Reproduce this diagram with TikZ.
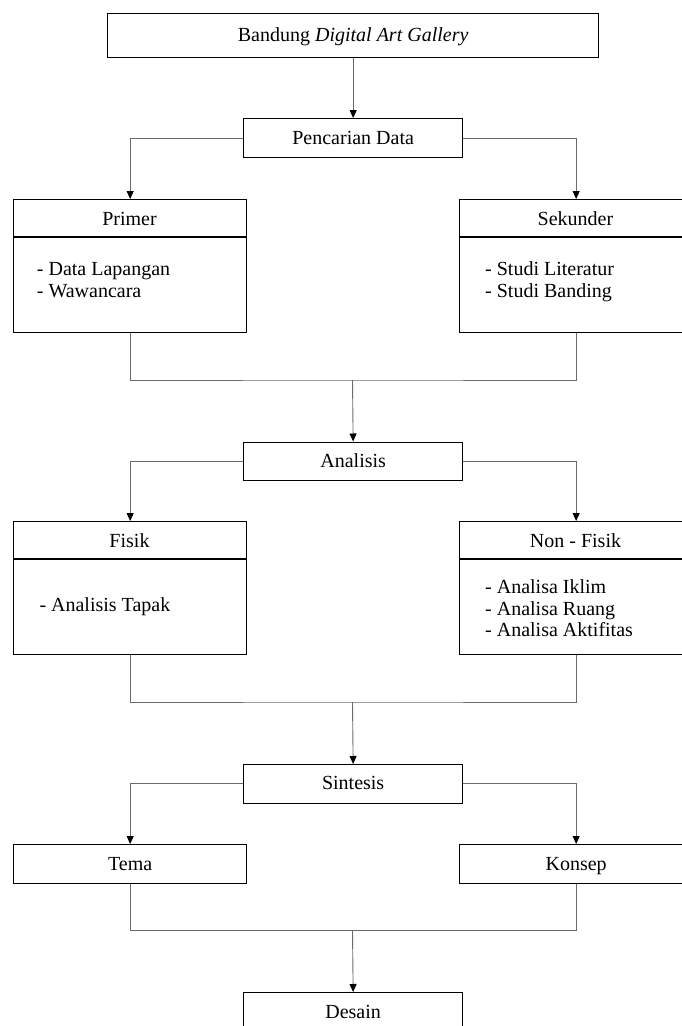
\documentclass[tikz,border=0pt]{standalone}
\usepackage{fontspec}
\setmainfont{Liberation Serif}
\usetikzlibrary{arrows.meta}
\begin{document}
\begin{tikzpicture}[x=1pt,y=-1pt,
  box/.style={draw=black,line width=1.3pt,rectangle,inner sep=0pt,anchor=north west,
    font=\fontsize{20}{22}\selectfont,text height=16pt,text depth=4pt},
  conn/.style={draw=black!58,line width=0.9pt},
  arr/.style={conn,-{Triangle[length=8pt,width=7pt,color=black]}},
  divider/.style={draw=black,line width=1.3pt},
  txt/.style={font=\fontsize{20}{22}\selectfont,inner sep=0pt,anchor=base west},
  head/.style={font=\fontsize{20}{22}\selectfont,inner sep=0pt,anchor=base}]
\useasboundingbox (0,0) rectangle (681,1026);

% nodes
\node[box,minimum width=491pt,minimum height=44pt] (top) at (107,13) {Bandung \textit{Digital Art Gallery}};
\node[box,minimum width=219pt,minimum height=39pt] (pen) at (243,118) {Pencarian Data};
\node[box,minimum width=233pt,minimum height=133pt] (primer) at (13,199) {};
\node[box,minimum width=233pt,minimum height=133pt] (sekunder) at (459,199) {};
\node[box,minimum width=219pt,minimum height=38pt] (ana) at (243,441.5) {Analisis};
\node[box,minimum width=233pt,minimum height=133pt] (fisik) at (13,521) {};
\node[box,minimum width=233pt,minimum height=133pt] (nonfisik) at (459,521) {};
\node[box,minimum width=219pt,minimum height=38.5pt] (sin) at (243,764) {Sintesis};
\node[box,minimum width=233pt,minimum height=39pt] (tema) at (13,844) {Tema};
\node[box,minimum width=233pt,minimum height=39pt] (konsep) at (459,844) {Konsep};
\node[box,minimum width=219pt,minimum height=39pt] (desain) at (243,992) {Desain};

% dividers
\draw[divider] ([yshift=-38pt]primer.north west) -- ([yshift=-38pt]primer.north east);
\draw[divider] ([yshift=-38pt]sekunder.north west) -- ([yshift=-38pt]sekunder.north east);
\draw[divider] ([yshift=-38pt]fisik.north west) -- ([yshift=-38pt]fisik.north east);
\draw[divider] ([yshift=-38pt]nonfisik.north west) -- ([yshift=-38pt]nonfisik.north east);

% texts inside boxes
\node[head] (primerh) at (129.5,225.3) {Primer};
\node[head] (sekunderh) at (575.5,225.3) {Sekunder};
\node[txt] (primert1) at (36.7,275.7) {- Data Lapangan};
\node[txt] (primert2) at (36.7,297.3) {- Wawancara};
\node[txt] (sekundert1) at (485,275.7) {- Studi Literatur};
\node[txt] (sekundert2) at (485,297.3) {- Studi Banding};
\node[head] (fisikh) at (129.5,547.3) {Fisik};
\node[head] (nonfisikh) at (575.5,547.3) {Non - Fisik};
\node[txt] (fisikt) at (39.3,611.7) {- Analisis Tapak};
\node[txt] (nonfisikt1) at (485,593.3) {- Analisa Iklim};
\node[txt] (nonfisikt2) at (485,615) {- Analisa Ruang};
\node[txt] (nonfisikt3) at (485,636.7) {- Analisa Aktifitas};

% junction points
\coordinate (j1) at (352.5,380);
\coordinate (j2) at (352.5,702);
\coordinate (j3) at (352.5,930);

% connectors
\draw[arr] (top.south) -- (pen.north);
\draw[arr] (pen.west) -| (primer.north);
\draw[arr] (pen.east) -| (sekunder.north);
\draw[conn] (primer.south) |- (j1) -| (sekunder.south);
\draw[arr] (j1) -- (ana.north);
\draw[arr] (ana.west) -| (fisik.north);
\draw[arr] (ana.east) -| (nonfisik.north);
\draw[conn] (fisik.south) |- (j2) -| (nonfisik.south);
\draw[arr] (j2) -- (sin.north);
\draw[arr] (sin.west) -| (tema.north);
\draw[arr] (sin.east) -| (konsep.north);
\draw[conn] (tema.south) |- (j3) -| (konsep.south);
\draw[arr] (j3) -- (desain.north);
\end{tikzpicture}
\end{document}
